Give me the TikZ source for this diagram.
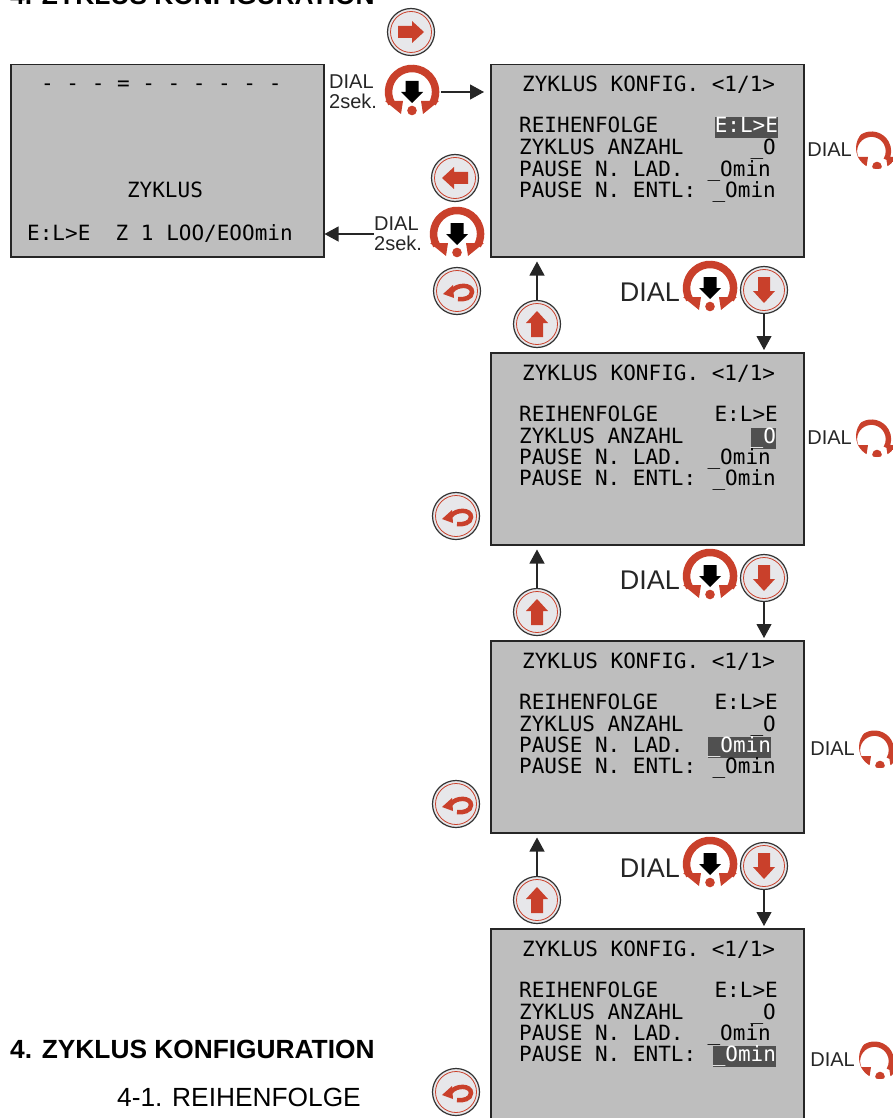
\documentclass[tikz,border=0pt]{standalone}
\usepackage{fontspec}
\setmainfont{Liberation Sans}
\newfontfamily\lcdfont{DejaVu Sans Mono}
\usetikzlibrary{arrows.meta,calc}
\definecolor{lcdgrey}{HTML}{BEBEBE}
\definecolor{lcddark}{HTML}{505050}
\definecolor{btnred}{HTML}{C9402B}
\definecolor{btngrey}{HTML}{E7E7EA}
\tikzset{
  screen/.style={draw=black!85,line width=1.5pt,fill=lcdgrey,minimum width=313pt,minimum height=192pt,anchor=north west},
  lcd/.style={font=\lcdfont\fontsize{21}{24}\selectfont,inner sep=0pt,text height=15.5pt,text depth=5.5pt},
  lcdval/.style={lcd,anchor=east},
  lcdsel/.style={lcd,anchor=east,fill=lcddark,text=white,outer sep=0pt},
  flow/.style={-{Triangle[length=14pt,width=15pt]},line width=1.1pt,black!85},
  btn/.style={circle,draw=black!80,line width=1.2pt,fill=btngrey,minimum size=47pt,inner sep=0pt,path picture={
    \draw[btnred,line width=0.8pt] (path picture bounding box.center) circle (20.5);}},
  dial/.style={circle,minimum size=#1*2pt,inner sep=0pt,path picture={
    \begin{scope}[shift={(path picture bounding box.center)},scale=#1/29]
    \draw[btnred,line width=7.5*#1/29] (-20.3,11.7) arc[start angle=150,end angle=390,radius=23.5*#1/29];
    \fill[btnred] (-27,9) -- (-9,9) -- (-11,22) -- cycle;
    \fill[btnred] (27,9) -- (9,9) -- (11,22) -- cycle;
    \fill[btnred] (0,18.5) circle (4.8);
    \end{scope}}},
  dialtext/.style={font=\fontsize{#1}{#1}\selectfont,inner sep=0pt,text=black!85},
  heading/.style={font=\fontsize{26.3}{30}\selectfont,inner sep=0pt,anchor=base west}
}
% marks on top of the buttons and dials
\newcommand{\arrowmark}[2]{\fill[btnred,shift={(#1.center)},rotate=#2] (-13,-6) -- (1,-6) -- (1,-11) -- (13,0) -- (1,11) -- (1,6) -- (-13,6) -- cycle;}
\newcommand{\backmark}[1]{
  \draw[btnred,line width=4.5pt,shift={(#1.center)}] (-5,0) .. controls (0,-7) and (15,-7) .. (15,1) .. controls (15,7) and (7,9) .. (1,8);
  \fill[btnred,shift={(#1.center)}] (-14,3) -- (-4,-6) -- (-3,7) -- cycle;}
\newcommand{\pushmark}[1]{\fill[black,shift={(#1.center)}] (-6.5,-11) -- (6.5,-11) -- (6.5,0) -- (11,0) -- (0,11) -- (-11,0) -- (-6.5,0) -- cycle;}
\begin{document}
\begin{tikzpicture}[x=1pt,y=-1pt]
\useasboundingbox (0,0) rectangle (893,1118);
\node[heading,font=\fontsize{26.3}{30}\selectfont\bfseries] (topHead) at (10,5) {4. ZYKLUS KONFIGURATION};
\node[heading,font=\fontsize{26.3}{30}\selectfont\bfseries] (mainHead) at (10,1058) {4. ZYKLUS KONFIGURATION};
\node[heading] (subHead) at (117,1106) {4-1. REIHENFOLGE};
% run screen
\node[screen] (scrA) at (10,64) {};
\node[lcd,anchor=west] (scrAdash) at (41,86) {- - - = - - - - - -};
\node[lcd] (scrAname) at (165,192) {ZYKLUS};
\node[lcd,anchor=west] (scrAstat) at (27,235) {E:L>E~~Z 1 LOO/EOOmin};
% config screens
\foreach \n/\y/\sa/\sb/\sc/\sd in {B/64/lcdsel/lcdval/lcdval/lcdval,C/352/lcdval/lcdsel/lcdval/lcdval,D/640/lcdval/lcdval/lcdsel/lcdval,E/928/lcdval/lcdval/lcdval/lcdsel} {
  \node[screen] (scr\n) at (490,\y) {};
  \node[lcd,anchor=west] (title\n) at (522,\y+23) {ZYKLUS KONFIG. <1/1>};
  \node[lcd,anchor=west] (rowa\n) at (519,\y+64) {REIHENFOLGE};
  \node[lcd,anchor=west] (rowb\n) at (519,\y+86) {ZYKLUS ANZAHL};
  \node[lcd,anchor=west] (rowc\n) at (519,\y+107) {PAUSE N. LAD.};
  \node[lcd,anchor=west] (rowd\n) at (519,\y+128) {PAUSE N. ENTL:};
  \node[\sa] (vala\n) at (778,\y+64) {E:L>E};
  \node[\sb] (valb\n) at (776,\y+86) {\_O};
  \node[\sc] (valc\n) at (771,\y+107) {\_Omin};
  \node[\sd] (vald\n) at (776,\y+128) {\_Omin};
}
% enter and leave
\node[btn] (btnNext) at (411,32) {};
\arrowmark{btnNext}{0}
\node[dial=29] (dialIn) at (412,92) {};
\pushmark{dialIn}
\node[dialtext=20,align=left,anchor=west] (lblIn) at (329,92) {DIAL\\2sek.};
\node[btn] (btnPrev) at (455,178) {};
\arrowmark{btnPrev}{180}
\node[dial=29] (dialOut) at (457,234) {};
\pushmark{dialOut}
\node[dialtext=20,align=left,anchor=west] (lblOut) at (374,234) {DIAL\\2sek.};
\node[btn] (btnBackA) at (457,291) {};
\backmark{btnBackA}
\draw[flow,shorten >=6pt] (dialIn.east) -- (scrB.west|-dialIn);
\draw[flow] (lblOut.west) -- (scrA.east|-lblOut);
% steps between screens
\foreach \n/\m/\y in {B/C/0,C/D/288,D/E/576} {
  \node[dial=29] (dial\n) at (710,288+\y) {};
  \pushmark{dial\n}
  \node[dialtext=27,anchor=east] (lbl\n) at (680,292+\y) {DIAL};
  \node[btn] (btnDown\n) at (764,290+\y) {};
  \arrowmark{btnDown\n}{-90}
  \node[btn] (btnUp\n) at (537,324+\y) {};
  \arrowmark{btnUp\n}{90}
  \draw[flow,shorten >=2pt] (btnDown\n) -- (btnDown\n|-scr\m.north);
  \draw[flow,shorten >=4pt] (btnUp\n) -- (btnUp\n|-scr\n.south);
}
\foreach \n/\y in {C/516,D/804,E/1092} {
  \node[btn] (btnBack\n) at (456,\y) {};
  \backmark{btnBack\n}
}
% dials beside the screens
\foreach \n/\x/\y in {B/877/148,C/877/436,D/880/747,E/880/1058} {
  \node[dial=21] (side\n) at (\x,\y) {};
  \node[dialtext=20,anchor=east] (sidelbl\n) at (\x-25,\y+2) {DIAL};
}
\end{tikzpicture}
\end{document}
